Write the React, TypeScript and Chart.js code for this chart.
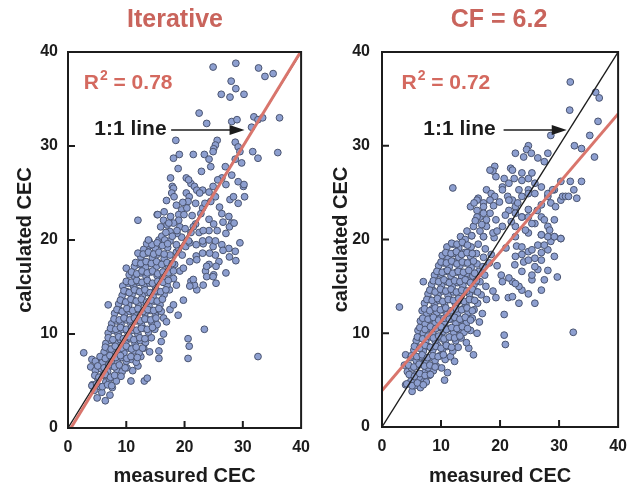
import React, { useEffect, useRef } from "react";
import { Chart, registerables } from "chart.js";

Chart.register(...registerables);

const FONT = '"Liberation Sans", Arial, Helvetica, sans-serif';

// ---------- text ----------
const iterativeTitle = "Iterative";
const cfTitle = "CF = 6.2";
const iterativeR2 = "0.78";
const cfR2 = "0.72";
const xAxisLabel = "measured CEC";
const yAxisLabel = "calculated CEC";
const lineLabel = "1:1 line";
const axisMin = 0;
const axisMax = 40;
const axisStep = 10;

// ---------- lines (measured, calculated) ----------
const oneToOne: [number, number][] = [[0, 0], [40, 40]];
const iterativeFit: [number, number][] = [[0.5, 0], [39.9, 40]];
const cfFit: [number, number][] = [[0, 3.9], [40, 33.4]];

// ---------- Iterative points (measured, calculated) ----------
const iterativeLow: [number, number][] = [
  [5.0,3.2],[6.4,2.9],[4.5,4.0],[5.8,3.8],[7.2,3.5],
  [4.2,4.6],[5.5,4.4],[6.5,4.9],[7.6,4.3],[8.3,5.0],[10.8,5.0],[13.1,5.0],[13.6,5.3],[5.0,5.4],[6.0,5.6],[7.1,5.2],[11.1,6.1],
  [3.9,6.5],[4.7,6.1],[5.7,6.3],[6.8,6.0],[7.5,6.6],[8.4,6.2],[9.3,6.0],[10.1,6.4],[12.0,6.6],
  [4.1,7.3],[4.7,7.1],[5.9,7.0],[6.7,7.4],[7.6,7.2],[8.5,7.0],[9.2,7.5],[10.0,7.1],[10.9,7.3],[11.7,7.0],[12.5,7.6],[15.6,7.4],[20.6,7.4],[32.6,7.6],
  [2.7,8.0],[6.2,8.1],[7.0,8.4],[7.9,8.0],[8.8,8.3],[9.6,8.0],[10.4,8.5],[11.3,8.2],[12.2,8.0],[13.0,8.5],[14.0,8.1],[15.6,8.2],[20.8,8.7],
  [6.5,9.0],[7.4,9.3],[8.2,9.0],[9.0,9.4],[9.9,9.1],[10.7,9.5],[11.5,9.0],[12.4,9.3],[13.3,9.1],[14.3,9.6],[16.0,9.2],[20.6,9.5],
  [6.9,10.1],[7.8,10.4],[8.6,10.0],[9.4,10.5],[10.3,10.1],[11.2,10.4],[12.0,10.0],[12.9,10.6],[13.8,10.2],[14.9,10.5],[16.4,10.0],[23.4,10.5],
  [7.5,11.1],[8.3,11.4],[9.1,11.0],[10.0,11.5],[10.8,11.1],[11.7,11.4],[12.6,11.0],[13.5,11.6],[14.4,11.2],[15.3,11.0],[16.4,11.7],[16.9,11.3],
  [8.0,12.2],[8.9,12.5],[9.7,12.1],[10.6,12.4],[11.4,12.0],[12.3,12.6],[13.2,12.2],[14.1,12.5],[15.0,12.0],[16.0,12.4],[17.5,12.6],[18.9,12.0],
  [6.9,13.1],[8.7,13.2],[9.5,13.5],[10.4,13.1],[11.2,13.6],[12.1,13.2],[13.0,13.4],[13.9,13.0],[14.8,13.5],[15.8,13.1],[18.1,13.1],[19.8,13.6],
  [9.3,14.1],[10.1,14.5],[11.0,14.2],[11.9,14.6],[12.8,14.1],[13.7,14.4],[14.6,14.0],[15.5,14.5],[16.5,14.2],[17.4,14.7],[22.1,14.7],
  [9.4,15.1],[10.4,15.4],[11.3,15.0],[12.2,15.5],[13.1,15.1],[14.0,15.4],[15.0,15.0],[16.0,15.6],[17.0,15.2],[18.6,15.2],[21.1,15.6],[21.7,15.2],[20.9,15.1],[23.2,15.2],[25.4,15.4],
  [10.5,16.3],[11.5,16.0],[12.5,16.5],[13.4,16.1],[14.3,16.6],[15.3,16.2],[16.3,16.0],[17.3,16.5],[18.1,15.9],[19.2,16.7],[23.6,16.7],[25.0,16.3],[21.5,15.8],[23.8,16.1],[24.9,16.1],[27.1,16.5],
  [10.0,17.0],[11.4,17.2],[12.3,17.4],[13.3,17.1],[14.2,17.6],[15.2,17.2],[16.2,17.5],[17.2,17.0],[18.3,17.4],[19.8,17.0],[20.9,17.7],[24.2,17.4],[25.9,17.7],[23.8,17.2],[25.4,17.2],[28.8,17.8],
  [12.5,18.2],[13.5,18.6],[14.5,18.1],[15.4,18.5],[16.5,18.0],[17.5,18.4],[18.6,18.7],[22.0,18.3],[23.1,18.6],[25.3,18.4],[28.7,18.8],[22.1,17.9],[24.3,18.6],[27.7,18.2],
  [13.0,19.0],[14.0,19.4],[15.0,19.1],[16.0,19.6],[17.1,19.2],[19.0,19.1],[20.2,19.3],[22.0,19.5],[26.4,19.5],[27.6,19.1],[29.5,19.7],[18.6,19.5],[20.9,19.7],[23.2,19.6],[24.9,19.3],[26.6,18.9],
  [13.9,19.9],[15.6,20.0],[16.4,19.7],[17.5,19.9],[23.1,19.9],[24.2,20.0],[25.3,19.9],[16.1,20.4],[16.6,20.0],[19.5,20.3],[20.7,19.9],
];

// dense core between the rows above
const iterativeCore: [number, number][] = [
  [4.1,4.5],[4.9,4.7],[5.9,4.4],[6.8,4.6],[7.5,4.5],
  [4.6,5.6],[5.3,5.4],[6.4,5.7],[7.3,5.4],[8.0,5.6],[9.1,5.5],
  [5.1,6.6],[6.2,6.4],[7.0,6.7],[8.0,6.5],[8.8,6.7],[9.8,6.4],
  [5.5,7.6],[6.4,7.4],[7.2,7.7],[8.2,7.5],[9.0,7.7],[10.1,7.4],[10.8,7.6],[11.9,7.5],
  [6.4,8.6],[7.4,8.4],[8.1,8.7],[9.2,8.5],[10.0,8.7],[10.9,8.4],[11.7,8.6],[12.8,8.5],
  [6.9,9.6],[7.7,9.4],[8.7,9.7],[9.5,9.5],[10.5,9.7],[11.3,9.4],[12.3,9.6],[13.2,9.5],
  [7.3,10.6],[8.2,10.5],[9.0,10.7],[10.0,10.5],[10.9,10.7],[11.8,10.4],[12.6,10.6],[13.6,10.5],[14.5,10.7],
  [7.9,11.6],[8.8,11.5],[9.6,11.7],[10.6,11.5],[11.4,11.7],[12.4,11.4],[13.2,11.6],[14.2,11.5],[15.1,11.7],
  [8.4,12.6],[9.3,12.4],[10.1,12.7],[11.1,12.5],[12.0,12.7],[12.9,12.4],[13.7,12.6],[14.7,12.5],[15.6,12.7],
  [9.0,13.6],[9.9,13.4],[10.8,13.7],[11.7,13.5],[12.6,13.7],[13.5,13.4],[14.3,13.6],[15.3,13.5],[16.2,13.7],
  [9.6,14.6],[10.5,14.4],[11.4,14.7],[12.3,14.5],[13.2,14.7],[14.1,14.4],[15.0,14.6],[15.9,14.5],[16.8,14.7],
  [10.0,15.6],[10.9,15.5],[11.8,15.7],[12.7,15.5],[13.6,15.7],[14.5,15.4],[15.4,15.6],[16.3,15.5],[17.2,15.7],
  [10.9,16.6],[11.8,16.4],[12.7,16.7],[13.6,16.5],[14.5,16.7],[15.4,16.4],[16.3,16.6],[17.2,16.5],[18.1,16.7],
  [11.6,17.6],[12.5,17.5],[13.4,17.7],[14.3,17.5],[15.2,17.7],[16.1,17.4],[17.0,17.6],[17.9,17.5],
  [12.0,18.6],[12.9,18.5],[13.8,18.7],[14.7,18.5],[15.6,18.7],[16.5,18.5],[19.6,18.4],
  [13.5,19.6],[14.4,19.5],[15.3,19.7],[16.2,19.4],[17.1,19.6],
];

const iterativeHigh: [number, number][] = [
  [24.9,38.4],[28.8,38.8],[32.7,38.3],[33.8,37.4],[35.2,37.7],[28.0,36.9],[28.8,36.1],[30.2,35.5],[26.3,35.5],[27.8,35.2],
  [22.5,33.5],[23.8,32.4],[28.1,32.6],[29.0,32.8],[31.9,33.1],[32.6,32.8],[33.4,33.0],[36.3,33.0],[31.5,32.0],
  [18.5,30.6],[25.6,30.6],[25.3,30.1],[25.0,29.7],[28.7,30.4],[29.2,29.9],[29.5,29.4],[31.7,29.4],[32.6,28.7],[36.0,29.3],
  [18.1,28.7],[19.1,29.1],[21.5,29.1],[23.4,29.1],[24.2,28.6],[24.5,27.8],[27.0,27.8],[29.8,28.2],[28.7,28.6],[18.9,27.6],[24.9,29.4],
  [17.6,26.6],[20.3,26.6],[21.1,26.0],[21.7,25.7],[26.4,26.6],[28.1,26.9],[29.2,26.2],[30.1,25.7],[20.7,26.4],[25.7,26.4],[27.1,25.9],[24.9,25.7],[30.2,25.9],[17.9,25.7],
  [23.1,25.3],[24.2,25.1],[25.3,24.6],[24.5,24.1],[18.1,25.5],[17.8,25.0],[20.3,25.0],[20.8,24.6],[20.6,24.1],[22.1,25.3],[22.6,25.0],[18.2,24.6],
  [27.8,24.3],[28.4,24.6],[29.2,23.9],[30.3,24.6],[18.6,23.7],[19.5,23.2],[19.0,22.7],[21.9,23.9],[23.1,23.4],[22.8,22.8],[23.5,23.9],[19.9,22.7],
  [26.4,22.8],[27.6,22.5],[28.1,21.8],[12.0,22.1],[15.3,22.7],[16.4,22.1],[17.0,21.6],[15.9,21.4],[17.6,22.5],[16.5,23.0],[19.0,22.1],
  [18.1,21.8],[19.2,21.4],[17.5,20.9],[18.7,20.7],[24.2,22.2],[25.0,21.7],[25.6,21.0],[24.2,21.0],[21.9,21.7],[22.5,20.8],[21.1,20.8],
  [21.5,21.4],[23.2,21.0],[26.6,21.9],[27.7,21.4],[27.1,20.7],[28.5,21.8],[18.7,21.0],[13.8,20.0],[15.4,22.7],[17.3,21.8],
  [16.8,20.8],[17.9,20.4],[20.1,21.2],[19.7,24.0],[21.3,22.6],[20.4,23.4],[16.9,24.2],[22.9,27.3],[26.0,23.5],
];

// ---------- CF = 6.2 points (measured, calculated) ----------
const cfLow: [number, number][] = [
  [4.0,4.5],[4.9,4.9],[5.1,3.8],[6.0,4.5],[6.5,4.2],[6.8,5.2],[7.5,4.8],[5.5,4.4],[10.6,5.0],
  [4.3,5.9],[5.7,5.6],[6.3,5.3],[7.2,5.8],[8.0,5.5],[8.7,6.0],[11.1,5.8],[3.8,6.6],[5.0,6.3],[6.0,6.5],[7.0,6.8],[7.8,6.3],[9.2,6.5],[10.1,6.3],
  [4.0,7.7],[4.9,7.4],[5.8,7.1],[6.6,7.5],[7.4,7.0],[8.2,7.4],[9.0,7.1],[9.8,7.6],[10.7,7.2],[11.6,7.5],[12.3,7.0],
  [5.4,8.2],[6.2,8.5],[7.0,8.1],[7.8,8.6],[8.6,8.2],[9.4,8.7],[10.3,8.3],[11.1,8.6],[12.0,8.1],[12.9,8.5],[14.7,8.4],[15.5,7.7],[20.9,8.8],
  [5.8,9.2],[6.6,9.5],[7.4,9.1],[8.2,9.6],[9.0,9.2],[9.9,9.5],[10.7,9.1],[11.6,9.6],[12.5,9.2],[13.4,9.5],[14.3,9.0],
  [6.1,10.3],[7.0,10.0],[7.8,10.5],[8.6,10.1],[9.5,10.6],[10.4,10.2],[11.2,10.5],[12.1,10.0],[13.0,10.4],[13.9,10.1],[15.0,10.3],[16.1,10.0],[20.7,9.8],[32.4,10.1],
  [6.5,11.3],[7.3,11.0],[8.1,11.5],[9.0,11.1],[9.8,11.6],[10.7,11.2],[11.6,11.5],[12.5,11.0],[13.4,11.4],[14.3,11.1],[15.3,11.6],[16.5,11.2],
  [6.8,12.4],[7.6,12.1],[8.5,12.6],[9.3,12.2],[10.2,12.5],[11.0,12.0],[11.9,12.4],[12.8,12.1],[13.7,12.6],[14.6,12.2],[15.6,12.5],[17.0,12.1],[20.7,12.0],[2.95,12.8],
  [7.2,13.2],[8.0,13.6],[8.9,13.1],[9.7,13.5],[10.6,13.1],[11.5,13.6],[12.4,13.2],[13.3,13.5],[14.2,13.1],[15.1,13.6],[16.2,13.2],[17.7,13.6],[19.3,13.8],[21.4,13.8],[25.9,13.2],[23.2,13.2],
  [7.8,14.2],[8.6,14.6],[9.5,14.1],[10.3,14.5],[11.2,14.0],[12.1,14.4],[13.0,14.1],[13.9,14.6],[14.8,14.2],[15.8,14.5],[16.8,14.1],[18.8,14.5],[22.1,13.9],[23.7,14.6],[24.8,14.2],[27.0,14.6],
  [7.0,15.5],[8.4,15.2],[9.2,15.6],[10.1,15.1],[11.0,15.5],[11.9,15.0],[12.8,15.4],[13.7,15.1],[14.6,15.6],[15.6,15.2],[16.6,15.5],[17.6,15.0],[20.4,15.5],[22.1,15.5],[23.2,15.0],[22.6,15.3],[25.4,15.7],[27.5,15.7],
  [8.9,16.2],[10.0,16.3],[10.8,16.6],[11.7,16.1],[12.6,16.5],[13.5,16.0],[14.4,16.4],[15.4,16.1],[16.4,16.6],[17.4,16.2],[20.2,16.2],[21.5,15.9],[23.7,16.6],[25.4,16.2],[26.4,16.8],[28.1,16.7],[29.7,16.0],
  [9.6,17.2],[10.5,17.5],[11.4,17.1],[12.3,17.6],[13.2,17.2],[14.1,17.5],[15.1,17.0],[16.1,17.4],[17.1,17.1],[18.2,17.5],[19.5,17.2],[22.5,17.3],[24.0,17.6],[25.9,17.1],[24.8,17.8],[27.0,17.8],
  [10.2,18.3],[11.2,18.0],[12.1,18.5],[13.0,18.1],[14.0,18.6],[15.0,18.2],[16.0,18.5],[17.2,18.1],[18.5,18.4],[23.7,18.4],[24.8,18.7],[25.9,18.0],[27.0,18.6],[22.6,18.2],[29.2,18.2],[28.1,18.9],
  [11.0,19.2],[12.0,19.5],[13.0,19.1],[14.0,19.6],[15.1,19.2],[16.3,19.5],[17.5,19.0],[26.4,19.4],[27.5,19.4],[28.6,19.8],[21.0,19.1],[22.8,19.3],[23.7,19.2],[25.4,18.9],
  [13.3,20.3],[14.1,20.0],[15.2,20.4],[17.2,20.3],[29.2,20.3],[30.3,20.1],[27.0,20.5],[19.0,20.2],[22.6,20.3],[24.8,20.7],[28.1,20.3],[18.8,20.7],
];

const cfCore: [number, number][] = [
  [4.2,4.6],[5.1,4.4],[6.0,4.7],[7.0,4.5],
  [4.6,5.6],[5.5,5.4],[6.4,5.7],[7.3,5.5],[8.2,5.6],
  [4.5,6.6],[5.4,6.4],[6.3,6.7],[7.2,6.5],[8.1,6.6],[9.0,6.4],
  [5.0,7.6],[5.9,7.5],[6.8,7.7],[7.7,7.4],[8.6,7.6],[9.5,7.5],[10.4,7.7],
  [5.5,8.6],[6.4,8.4],[7.3,8.7],[8.2,8.5],[9.1,8.6],[10.0,8.4],[10.9,8.7],[11.8,8.5],
  [6.0,9.6],[6.9,9.4],[7.8,9.7],[8.7,9.5],[9.6,9.7],[10.5,9.4],[11.4,9.6],[12.3,9.5],[13.2,9.7],
  [6.4,10.6],[7.3,10.4],[8.2,10.7],[9.1,10.5],[10.0,10.7],[10.9,10.4],[11.8,10.6],[12.7,10.5],[13.6,10.7],[14.5,10.5],
  [6.9,11.6],[7.8,11.5],[8.7,11.7],[9.6,11.4],[10.5,11.6],[11.4,11.5],[12.3,11.7],[13.2,11.5],[14.1,11.7],[15.0,11.4],
  [7.2,12.6],[8.1,12.4],[9.0,12.7],[9.9,12.5],[10.8,12.7],[11.7,12.4],[12.6,12.6],[13.5,12.5],[14.4,12.7],[15.3,12.4],
  [7.6,13.6],[8.5,13.5],[9.4,13.7],[10.3,13.4],[11.2,13.6],[12.1,13.5],[13.0,13.7],[13.9,13.4],[14.8,13.6],[15.7,13.5],
  [8.1,14.6],[9.0,14.4],[9.9,14.7],[10.8,14.5],[11.7,14.7],[12.6,14.4],[13.5,14.6],[14.4,14.5],[15.3,14.7],[16.2,14.4],
  [8.7,15.6],[9.6,15.5],[10.5,15.7],[11.4,15.4],[12.3,15.6],[13.2,15.5],[14.1,15.7],[15.0,15.4],[16.0,15.6],
  [9.3,16.6],[10.2,16.5],[11.1,16.7],[12.0,16.4],[12.9,16.6],[13.8,16.5],[14.7,16.7],[15.7,16.4],
  [10.0,17.6],[10.9,17.5],[11.8,17.7],[12.7,17.4],[13.6,17.6],[14.5,17.5],[15.5,17.7],
  [10.8,18.6],[11.7,18.5],[12.6,18.7],[13.5,18.4],[14.4,18.6],[15.3,18.5],
  [11.8,19.6],[12.7,19.5],[13.6,19.7],[14.5,19.4],
];

const cfHigh: [number, number][] = [
  [31.9,36.8],[36.2,35.7],[36.8,35.1],[31.8,33.8],[28.6,31.1],[36.6,32.6],[35.2,31.1],[32.6,30.0],[33.8,29.7],[36.0,28.8],
  [24.8,30.0],[24.5,29.6],[25.3,29.2],[22.6,29.2],[24.0,28.8],[26.4,28.7],[28.1,29.2],[27.5,28.3],
  [19.1,27.8],[18.8,27.3],[21.8,27.6],[23.7,27.1],[24.8,26.5],[25.4,27.1],[20.7,26.5],[22.4,26.5],[21.5,26.0],[12.0,25.5],
  [18.3,27.4],[19.3,26.7],[20.4,25.6],[22.1,27.4],[23.7,26.3],[24.8,25.3],[25.9,26.0],[28.1,24.6],[29.2,25.3],[30.3,24.2],
  [17.7,25.3],[18.5,24.9],[19.1,24.6],[18.3,24.2],[16.3,24.4],[17.2,23.9],[20.4,25.3],[21.3,24.6],[22.1,24.2],[23.2,25.3],
  [23.7,24.6],[24.8,24.9],[25.9,24.9],[27.0,25.6],[28.1,24.9],[28.9,25.3],[30.3,26.2],[31.9,26.2],[32.5,25.3],[33.8,26.2],
  [30.6,24.6],[31.1,24.6],[31.6,24.6],[33.0,24.4],[28.6,23.9],[29.4,23.5],[27.0,23.7],
  [16.1,24.2],[17.2,23.5],[16.6,22.4],[18.3,22.8],[19.3,22.1],[20.4,21.4],[17.7,21.4],
  [21.5,24.2],[22.6,23.5],[23.7,22.4],[24.8,23.2],[25.9,21.7],[27.0,22.4],[28.1,21.4],[29.2,22.1],[22.6,21.4],
  [15.0,23.5],[16.1,23.1],[17.2,22.8],[16.1,22.4],[17.7,22.1],[14.4,20.9],[15.5,21.4],[16.6,20.9],[15.2,20.4],[17.2,20.3],
  [21.5,23.1],[22.6,22.8],[23.7,22.4],[24.8,22.4],[25.4,21.7],[24.3,21.0],[27.5,22.1],[28.4,21.0],[27.0,20.5],[29.2,20.3],[30.3,20.1],
  [15.8,22.0],[16.9,21.6],[18.9,23.6],[19.9,24.0],[20.9,22.6],[19.5,20.9],[21.9,21.9],[23.0,23.9],[26.3,23.1],[15.6,23.9],
];

const iterativePoints = [...iterativeLow, ...iterativeCore, ...iterativeHigh];
const cfPoints = [...cfLow, ...cfCore, ...cfHigh];

type PanelProps = {
  canvasLeft: number;
  width: number;
  height: number;
  padRight: number;
  padTop: number;
  yAxisWidth: number;
  xAxisHeight: number;
  yTitlePad: number;
  yTickPad: number;
  titleX: number;
  title: string;
  r2: string;
  r2Pos: [number, number];
  labelPos: [number, number];
  arrowStart: number;
  arrowTip: number;
  points: [number, number][];
  fit: [number, number][];
};

const toXY = (arr: [number, number][]) => arr.map(([x, y]) => ({ x, y }));

function Panel(p: PanelProps) {
  const ref = useRef<HTMLCanvasElement | null>(null);
  useEffect(() => {
    if (!ref.current) return;
    const overlay = {
      id: "overlay",
      afterDraw(chart: any) {
        const ctx = chart.ctx as CanvasRenderingContext2D;
        const { left, right, top, bottom } = chart.chartArea;
        const xs = chart.scales.x;
        const ys = chart.scales.y;
        ctx.save();
        ctx.strokeStyle = "#1c1c1c";
        ctx.lineWidth = 2;
        ctx.strokeRect(left, top, right - left, bottom - top);
        for (let v = axisMin + axisStep; v < axisMax; v += axisStep) {
          const px = xs.getPixelForValue(v);
          ctx.beginPath();
          ctx.moveTo(px, bottom);
          ctx.lineTo(px, bottom - 7);
          ctx.stroke();
          const py = ys.getPixelForValue(v);
          ctx.beginPath();
          ctx.moveTo(left, py);
          ctx.lineTo(left + 7, py);
          ctx.stroke();
        }
        ctx.fillStyle = "#c9645c";
        ctx.font = `bold 25px ${FONT}`;
        ctx.textAlign = "center";
        ctx.textBaseline = "middle";
        ctx.fillText(p.title, p.titleX, 20);
        ctx.textAlign = "left";
        ctx.fillStyle = "#d4695f";
        let rx = xs.getPixelForValue(p.r2Pos[0]);
        const ry = ys.getPixelForValue(p.r2Pos[1]);
        ctx.font = `bold 21px ${FONT}`;
        ctx.fillText("R", rx, ry);
        rx += ctx.measureText("R").width + 1;
        ctx.font = `bold 14px ${FONT}`;
        ctx.fillText("2", rx, ry - 7);
        rx += ctx.measureText("2").width;
        ctx.font = `bold 21px ${FONT}`;
        ctx.fillText(" = " + p.r2, rx, ry);
        ctx.fillStyle = "#1c1c1c";
        const lx = xs.getPixelForValue(p.labelPos[0]);
        const ly = ys.getPixelForValue(p.labelPos[1]);
        ctx.fillText(lineLabel, lx, ly);
        const ax0 = xs.getPixelForValue(p.arrowStart);
        const ax1 = xs.getPixelForValue(p.arrowTip);
        ctx.strokeStyle = "#1c1c1c";
        ctx.lineWidth = 1.5;
        ctx.beginPath();
        ctx.moveTo(ax0, ly + 1);
        ctx.lineTo(ax1 - 12, ly + 1);
        ctx.stroke();
        ctx.beginPath();
        ctx.moveTo(ax1, ly + 1);
        ctx.lineTo(ax1 - 15, ly - 4);
        ctx.lineTo(ax1 - 15, ly + 6);
        ctx.closePath();
        ctx.fill();
        ctx.restore();
      },
    };
    const tickFont = { family: FONT, size: 16, weight: "bold" as const };
    const titleFont = { family: FONT, size: 20, weight: "bold" as const, lineHeight: 1 };
    const chart = new Chart(ref.current, {
      type: "scatter",
      data: {
        datasets: [
          { data: toXY(p.fit), showLine: true, borderColor: "#d9756c", borderWidth: 3, pointRadius: 0, order: 0 },
          { data: toXY(oneToOne), showLine: true, borderColor: "#1c1c1c", borderWidth: 1.3, pointRadius: 0, order: 1 },
          {
            data: toXY(p.points),
            pointRadius: 3.4,
            pointStyle: "circle",
            backgroundColor: "#8d9fd0",
            borderColor: "#4a5470",
            borderWidth: 1,
            order: 2,
          },
        ],
      },
      options: {
        responsive: false,
        animation: false,
        devicePixelRatio: 1,
        layout: { padding: { top: p.padTop, right: p.padRight, left: 0, bottom: 0 } },
        plugins: { legend: { display: false }, tooltip: { enabled: false } },
        scales: {
          x: {
            type: "linear",
            min: axisMin,
            max: axisMax,
            grid: { display: false, drawTicks: false },
            border: { display: false },
            ticks: { stepSize: axisStep, font: tickFont, color: "#1c1c1c", padding: 10 },
            title: { display: true, text: xAxisLabel, font: titleFont, color: "#1c1c1c", padding: { top: 0, bottom: 1 } },
            afterFit: (s: any) => { s.height = p.xAxisHeight; },
          },
          y: {
            type: "linear",
            min: axisMin,
            max: axisMax,
            grid: { display: false, drawTicks: false },
            border: { display: false },
            ticks: { stepSize: axisStep, font: tickFont, color: "#1c1c1c", padding: p.yTickPad },
            title: { display: true, text: yAxisLabel, font: titleFont, color: "#1c1c1c", padding: { top: p.yTitlePad, bottom: 0 } },
            afterFit: (s: any) => { s.width = p.yAxisWidth; },
          },
        },
      },
      plugins: [overlay],
    });
    return () => chart.destroy();
  }, []);
  return (
    <canvas
      ref={ref}
      width={p.width}
      height={p.height}
      style={{ position: "absolute", left: p.canvasLeft, top: 0, width: p.width, height: p.height }}
    />
  );
}

export default function App() {
  return (
    <div style={{ position: "absolute", left: 0, top: 0, width: 637, height: 487, background: "#ffffff" }}>
      <Panel
        canvasLeft={0}
        width={320}
        height={487}
        padRight={13}
        padTop={52}
        yAxisWidth={68}
        xAxisHeight={59}
        yTitlePad={15}
        yTickPad={10}
        titleX={175}
        title={iterativeTitle}
        r2={iterativeR2}
        r2Pos={[2.7, 36.7]}
        labelPos={[4.5, 31.8]}
        arrowStart={17.7}
        arrowTip={30.3}
        points={iterativePoints}
        fit={iterativeFit}
      />
      <Panel
        canvasLeft={320}
        width={317}
        height={487}
        padRight={11}
        padTop={52}
        yAxisWidth={62}
        xAxisHeight={60}
        yTitlePad={11}
        yTickPad={12}
        titleX={179}
        title={cfTitle}
        r2={cfR2}
        r2Pos={[3.3, 36.7]}
        labelPos={[7.0, 31.8]}
        arrowStart={20.6}
        arrowTip={31.3}
        points={cfPoints}
        fit={cfFit}
      />
    </div>
  );
}
